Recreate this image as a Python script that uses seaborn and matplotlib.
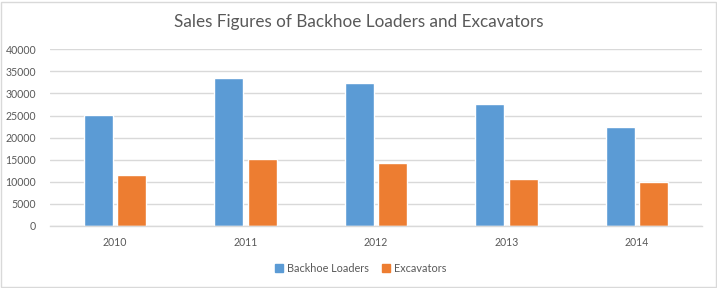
import matplotlib
matplotlib.use("Agg")
import matplotlib.pyplot as plt
import seaborn as sns
import pandas as pd
from matplotlib.patches import Rectangle

years = ["2010", "2011", "2012", "2013", "2014"]
backhoe = [25100, 33600, 32400, 27600, 22450]
excavators = [11600, 15200, 14300, 10650, 10000]
series = ["Backhoe Loaders", "Excavators"]
colors = ["#5B9BD5", "#ED7D31"]

df = pd.DataFrame({
    "Year": years * 2,
    "Sales": backhoe + excavators,
    "Series": [series[0]] * len(years) + [series[1]] * len(years),
})

sns.set_style("white")
plt.rcParams["font.family"] = ["Lato", "DejaVu Sans"]

fig = plt.figure(figsize=(7.17, 2.88), dpi=100)
ax = fig.add_axes([50 / 717, 1 - 226 / 288, 652 / 717, (226 - 49.3) / 288])

sns.barplot(data=df, x="Year", y="Sales", hue="Series", palette=colors,
            width=0.514, gap=0.134, ax=ax, legend=False, saturation=1)

ax.set_ylim(0, 40000)
ax.set_xlim(-0.5, 4.5)
ax.set_yticks(range(0, 40001, 5000))
ax.yaxis.grid(True, color="#D9D9D9", linewidth=1)
ax.set_axisbelow(True)
for s in ["top", "right", "left"]:
    ax.spines[s].set_visible(False)
ax.spines["bottom"].set_color("#D9D9D9")
ax.spines["bottom"].set_linewidth(1)
ax.tick_params(axis="both", length=0, labelsize=7.6, colors="#595959")
ax.tick_params(axis="y", pad=10)
ax.tick_params(axis="x", pad=8)
ax.set_xlabel("")
ax.set_ylabel("")

fig.text(0.5, 1 - 22 / 288, "Sales Figures of Backhoe Loaders and Excavators",
         ha="center", va="center", fontsize=12.3, color="#595959",
         fontweight="normal")

handles = [Rectangle((0, 0), 1, 1, color=c) for c in colors]
fig.legend(handles, series, loc="center", bbox_to_anchor=(361 / 717, 1 - 268 / 288),
           ncol=2, frameon=False, fontsize=7.8, labelcolor="#595959",
           handlelength=0.7, handleheight=0.7, handletextpad=0.4, columnspacing=1.2)

fig.patches.append(Rectangle((1.5 / 717, 1.5 / 288), 714 / 717, 285 / 288,
                             transform=fig.transFigure, fill=False,
                             edgecolor="#D9D9D9", linewidth=1))

fig.savefig("out.png", dpi=100, facecolor="white")
